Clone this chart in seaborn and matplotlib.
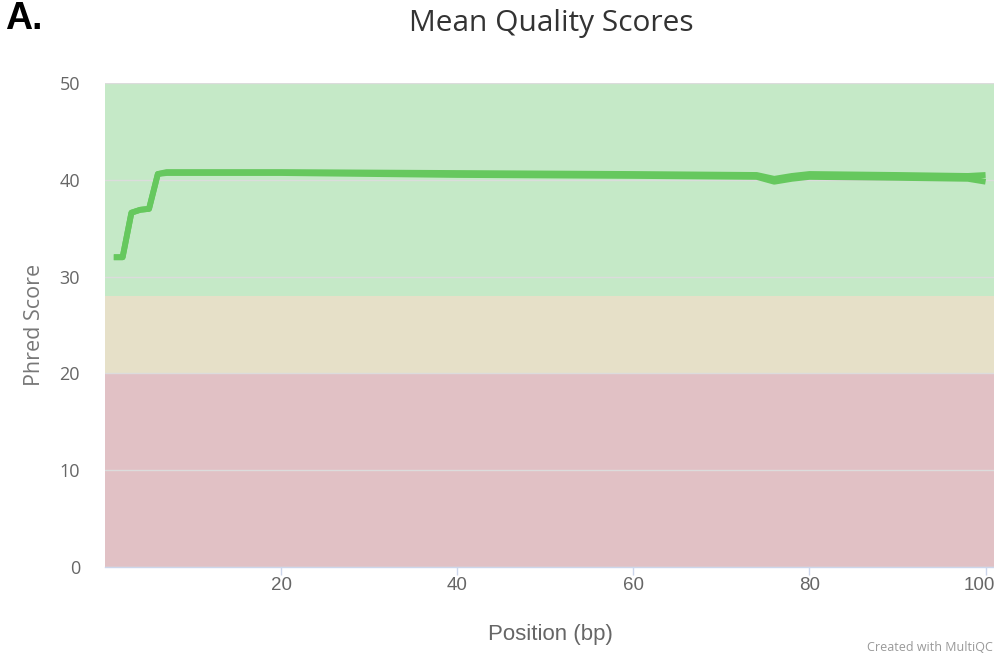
import matplotlib
matplotlib.use("Agg")
import matplotlib.pyplot as plt
import matplotlib.transforms as mtransforms
import seaborn as sns
import pandas as pd

# Mean Phred quality per base position for each sample
pos_a = [1, 2, 3, 4, 5, 6, 7, 20, 40, 60, 74, 76, 78, 80, 90, 98, 100]
qual_a = [32.0, 32.0, 36.6, 36.9, 37.0, 40.6, 40.8, 40.8, 40.7, 40.6, 40.5, 40.1, 40.4, 40.6, 40.5, 40.4, 40.5]
pos_b = [1, 2, 3, 4, 5, 6, 7, 20, 40, 60, 74, 76, 78, 80, 90, 98, 100]
qual_b = [32.0, 32.0, 36.6, 36.9, 37.0, 40.6, 40.7, 40.7, 40.5, 40.4, 40.3, 39.8, 40.1, 40.3, 40.2, 40.1, 39.8]
samples = ["Sample 1", "Sample 2"]

# Quality bands (red / amber / green)
band_edges = [0, 20, 28, 50]
band_colors = ["#e1c1c5", "#e6e0c8", "#c5e9c7"]

x_ticks = [20, 40, 60, 80, 100]
y_ticks = [0, 10, 20, 30, 40, 50]

df = pd.concat([
    pd.DataFrame({"Position": pos_a, "Score": qual_a, "Sample": samples[0]}),
    pd.DataFrame({"Position": pos_b, "Score": qual_b, "Sample": samples[1]}),
])

sns.set_theme(style="white")
plt.rcParams["font.family"] = ["Open Sans", "DejaVu Sans"]
label_font = ["Liberation Sans", "DejaVu Sans"]

fig = plt.figure(figsize=(9.95, 6.56), dpi=100)
fig.patch.set_facecolor("white")
ax = fig.add_axes([105 / 995, 1 - 567 / 656, 890 / 995, (567 - 83) / 656])
ax.set_facecolor("white")

for lo, hi, c in zip(band_edges[:-1], band_edges[1:], band_colors):
    ax.axhspan(lo, hi, color=c, lw=0, zorder=0)

for y in y_ticks:
    ax.axhline(y, color="#dcdcdc", lw=1.0, zorder=1)

sns.lineplot(data=df, x="Position", y="Score", hue="Sample",
             palette=["#66c85e", "#66c85e"], linewidth=4.2, legend=False,
             ax=ax, zorder=3, solid_capstyle="butt", solid_joinstyle="round")

ax.set_xlim(0, 101.07)
ax.set_ylim(0, 50)
ax.set_xticks(x_ticks)
ax.set_yticks(y_ticks)
for s in ["top", "right", "left"]:
    ax.spines[s].set_visible(False)
ax.spines["bottom"].set_color("#ccd6eb")
ax.spines["bottom"].set_linewidth(1.0)
ax.spines["bottom"].set_zorder(4)
ax.tick_params(axis="x", length=6, width=1, color="#ccd6eb", labelcolor="#666666",
               labelsize=13.5, pad=1, direction="out", bottom=True)
ax.tick_params(axis="y", length=0, labelcolor="#666666", labelsize=13, pad=18)
xlabels = ax.get_xticklabels()
for lbl in xlabels:
    lbl.set_family(label_font)
# keep the last tick label inside the figure edge
xlabels[-1].set_transform(xlabels[-1].get_transform() +
                          mtransforms.ScaledTranslation(-6 / 100, 0, fig.dpi_scale_trans))
ax.set_xlabel("Position (bp)", fontsize=16, color="#666666", labelpad=22,
              family=label_font)
ax.set_ylabel("Phred Score", fontsize=15.5, color="#777777", labelpad=10)

fig.text(551 / 995, 1 - 24 / 656, "Mean Quality Scores", ha="center", va="center",
         fontsize=21.5, color="#333333")
fig.text(5 / 995, 1 - 19 / 656, "A.", ha="left", va="center", fontsize=27,
         fontweight="bold", family=["Liberation Sans", "DejaVu Sans"], color="black")
fig.text(993 / 995, 2 / 656, "Created with MultiQC", ha="right", va="bottom",
         fontsize=9, color="#999999")

fig.savefig("out.png", dpi=100, facecolor="white")
